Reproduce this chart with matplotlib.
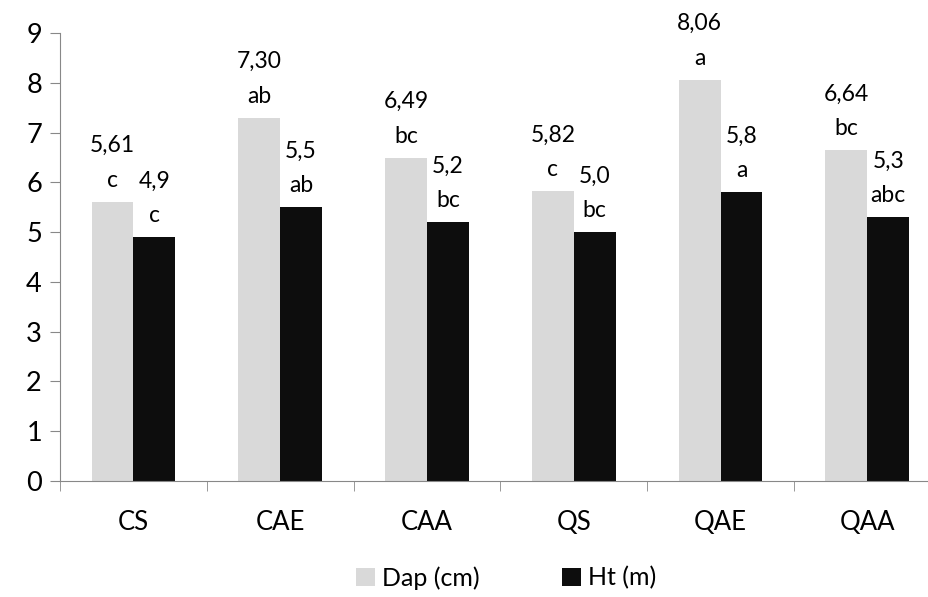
import matplotlib.pyplot as plt
import numpy as np

plt.rcParams['font.family'] = ['Lato', 'DejaVu Sans']

tratamentos = ['CS', 'CAE', 'CAA', 'QS', 'QAE', 'QAA']
dap = [5.61, 7.30, 6.49, 5.82, 8.06, 6.64]
ht = [4.9, 5.5, 5.2, 5.0, 5.8, 5.3]
letras_dap = ['c', 'ab', 'bc', 'c', 'a', 'bc']
letras_ht = ['c', 'ab', 'bc', 'bc', 'a', 'abc']

fig = plt.figure(figsize=(9.29, 5.97), dpi=100)
ax = fig.add_axes([0.0646, 0.1943, 0.948, 0.7504])

x = np.arange(len(tratamentos))
w = 0.285
b1 = ax.bar(x - w / 2, dap, w, color='#d9d9d9', label='Dap (cm)')
b2 = ax.bar(x + w / 2, ht, w, color='#0d0d0d', label='Ht (m)')

# rótulos: valor com vírgula decimal e letra da comparação de médias
for xi, v, l in zip(x - w / 2, dap, letras_dap):
    ax.annotate('{:.2f}'.format(v).replace('.', ',') + '\n' + l, (xi, v),
                xytext=(0, 8), textcoords='offset points', ha='center', va='bottom',
                fontsize=16.5, linespacing=1.8)
for xi, v, l in zip(x + w / 2, ht, letras_ht):
    ax.annotate('{:.1f}'.format(v).replace('.', ',') + '\n' + l, (xi, v),
                xytext=(0, 8), textcoords='offset points', ha='center', va='bottom',
                fontsize=16.5, linespacing=1.8)

ax.set_ylim(0, 9)
ax.set_xlim(-0.5, len(tratamentos) - 0.5)
ax.set_yticks(range(0, 10))
ax.set_xticks(x)
ax.set_xticklabels(tratamentos)
ax.set_xticks(np.arange(-0.5, len(tratamentos)), minor=True)
ax.tick_params(axis='y', labelsize=19.5, length=7, color='#888888', pad=6)
ax.tick_params(axis='x', which='major', length=0, labelsize=18.5, pad=21)
ax.tick_params(axis='x', which='minor', length=7, color='#888888')

for s in ['top', 'right']:
    ax.spines[s].set_visible(False)
for s in ['left', 'bottom']:
    ax.spines[s].set_color('#888888')

fig.legend(handles=[b1, b2], loc='center', bbox_to_anchor=(0.545, 0.032), ncol=2,
           frameon=False, fontsize=18, handlelength=0.75, handleheight=0.75,
           handletextpad=0.3, columnspacing=3.3)

plt.savefig('out.png', dpi=100)
